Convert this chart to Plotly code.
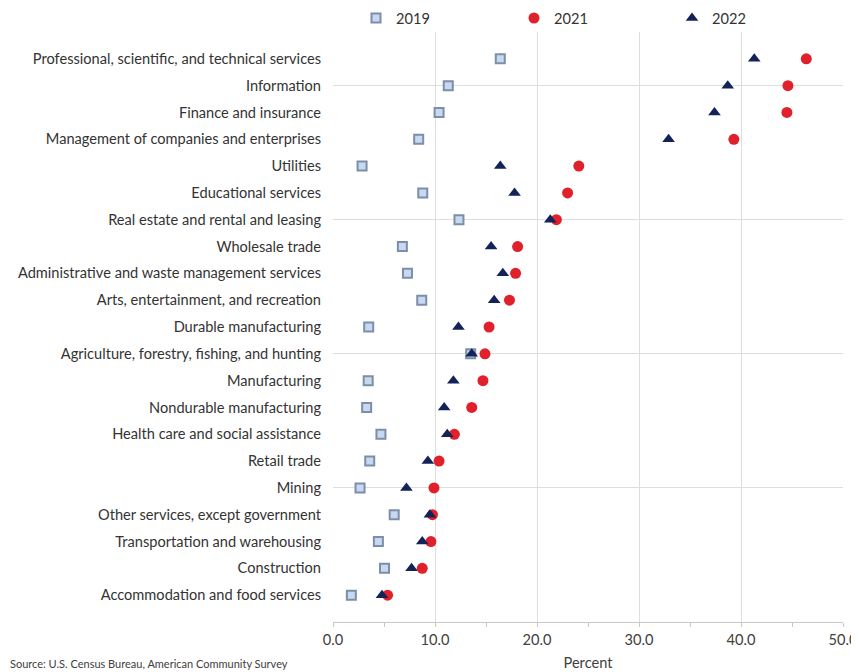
import plotly.graph_objects as go

categories = [
    "Professional, scientific, and technical services",
    "Information",
    "Finance and insurance",
    "Management of companies and enterprises",
    "Utilities",
    "Educational services",
    "Real estate and rental and leasing",
    "Wholesale trade",
    "Administrative and waste management services",
    "Arts, entertainment, and recreation",
    "Durable manufacturing",
    "Agriculture, forestry, fishing, and hunting",
    "Manufacturing",
    "Nondurable manufacturing",
    "Health care and social assistance",
    "Retail trade",
    "Mining",
    "Other services, except government",
    "Transportation and warehousing",
    "Construction",
    "Accommodation and food services",
]

v2019 = [16.4, 11.3, 10.4, 8.4, 2.85, 8.8, 12.35, 6.8, 7.3, 8.7, 3.5, 13.5, 3.45, 3.3, 4.7, 3.6, 2.65, 6.0, 4.45, 5.05, 1.8]
v2021 = [46.4, 44.6, 44.5, 39.3, 24.1, 23.0, 21.9, 18.1, 17.9, 17.3, 15.3, 14.9, 14.7, 13.6, 11.9, 10.4, 9.9, 9.75, 9.6, 8.75, 5.35]
v2022 = [41.3, 38.7, 37.4, 32.9, 16.4, 17.8, 21.3, 15.5, 16.65, 15.8, 12.3, 13.6, 11.8, 10.9, 11.2, 9.3, 7.2, 9.5, 8.75, 7.7, 4.8]

x_ticks = [0, 10, 20, 30, 40, 50]

n = len(categories)
ypos = [n - i for i in range(n)]

FONT = "Lato"
FS = 14.6
W, H = 851, 664  # page body has an 8px margin

fig = go.Figure()
fig.add_trace(go.Scatter(
    x=v2019, y=ypos, mode="markers", name="2019",
    marker=dict(symbol="square", size=9, color="#c6d9f0",
                line=dict(color="#7d8ea8", width=2)),
))
fig.add_trace(go.Scatter(
    x=v2021, y=ypos, mode="markers", name="2021",
    marker=dict(symbol="circle", size=11, color="#e0202a",
                line=dict(width=0)),
))
fig.add_trace(go.Scatter(
    x=v2022, y=ypos, mode="markers", name="2022",
    marker=dict(symbol="triangle-up", size=11, color="#14225a",
                line=dict(width=0)),
))

fig.update_layout(
    width=W, height=H,
    margin=dict(l=325, r=16, t=24, b=50, autoexpand=False),
    plot_bgcolor="white", paper_bgcolor="white",
    font=dict(family=FONT, size=FS, color="#333333"),
    showlegend=True,
    legend=dict(
        orientation="h", xref="container", yref="container",
        x=348/W, xanchor="left", y=1 - 10/H, yanchor="middle",
        entrywidth=113, entrywidthmode="pixels", itemwidth=30,
        font=dict(family=FONT, size=FS, color="#333333"),
        bgcolor="rgba(0,0,0,0)",
    ),
    xaxis=dict(
        range=[0, 50], tickvals=x_ticks,
        ticktext=[f"{v:.1f}" for v in x_ticks],
        showgrid=True, gridcolor="#dedede", gridwidth=1,
        zeroline=False, showline=True, linecolor="#c8c8c8", linewidth=1,
        ticks="outside", ticklen=4, tickcolor="#c8c8c8",
        minor=dict(dtick=5, ticks="outside", ticklen=4, tickcolor="#c8c8c8", showgrid=False),
        tickfont=dict(family=FONT, size=FS, color="#404040"),
        title=dict(text="Percent", font=dict(family=FONT, size=FS, color="#404040"), standoff=11),
        fixedrange=True,
    ),
    yaxis=dict(
        range=[0, 22], tickvals=ypos, ticktext=categories,
        showgrid=False, zeroline=False, showline=False,
        ticks="", ticklabelstandoff=11,
        minor=dict(tickvals=[5, 10, 15, 20], showgrid=True, gridcolor="#dedede", gridwidth=1, ticks=""),
        tickfont=dict(family=FONT, size=FS, color="#333333"),
        fixedrange=True,
    ),
    annotations=[dict(
        text="Source: U.S. Census Bureau, American Community Survey",
        xref="paper", yref="paper", x=-325/510, y=-49.5 / 590,
        xanchor="left", yanchor="bottom",
        showarrow=False, font=dict(family=FONT, size=11, color="#404040"),
    )],
)

fig.write_html("out.html")
